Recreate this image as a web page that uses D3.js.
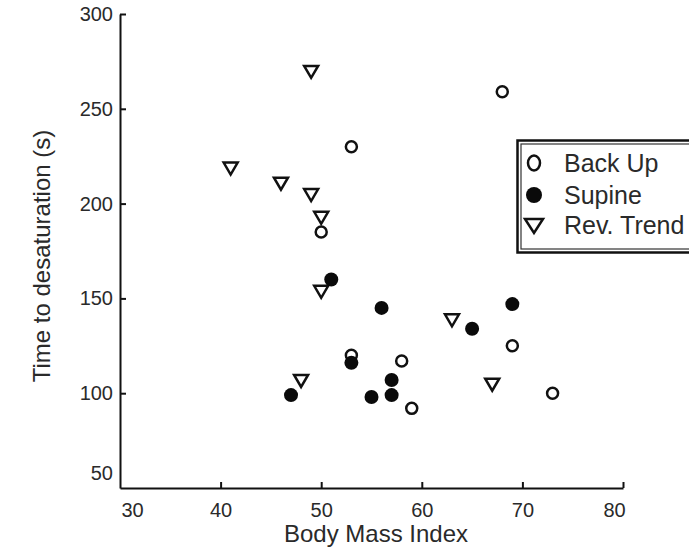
<!DOCTYPE html>
<html>
<head>
<meta charset="utf-8">
<script src="https://cdn.jsdelivr.net/npm/d3@7"></script>
<style>
    body { margin: 0; background: #fff; }
    .chart { width: 689px; height: 552px; }
    .chart text { font-family: "Liberation Sans", Arial, Helvetica, sans-serif; fill: #2a2a2a; }
    .axis path, .axis line { stroke: #111; stroke-width: 2; }
</style>
</head>
<body>
<div class="chart" id="chart"></div>
<script>
// Body mass index vs. time to desaturation, three positions
const backUpBmi = [68, 53, 50, 53, 58, 59, 69, 73];
const backUpTime = [259, 230, 185, 120, 117, 92, 125, 100];

const supineBmi = [47, 51, 53, 56, 55, 57, 57, 65, 69];
const supineTime = [99, 160, 116, 145, 98, 107, 99, 134, 147];

const revTrendBmi = [49, 41, 46, 49, 50, 50, 48, 63, 67];
const revTrendTime = [270, 219, 211, 205, 193, 154, 107, 139, 105];

const xTicks = [30, 40, 50, 60, 70, 80];
const yTicks = [50, 100, 150, 200, 250, 300];
const seriesNames = ['Back Up', 'Supine', 'Rev. Trend'];

const drawGraph = (elem) => {
    let width = 689;
    let height = 552;

    let xScale = d3.scaleLinear()
        .domain([30, 80])
        .range([120, 623]);

    let yScale = d3.scaleLinear()
        .domain([50, 300])
        .range([488, 14]);

    let svg = d3.select(elem)
        .append('svg')
        .attr('width', width)
        .attr('height', height);

    // axes, ticks pointing inward
    let xAxis = svg.append('g')
        .attr('class', 'axis')
        .attr('transform', 'translate(0,' + yScale(50) + ')')
        .call(d3.axisBottom(xScale).tickValues(xTicks).tickSize(-6).tickSizeOuter(0).tickPadding(15));

    let yAxis = svg.append('g')
        .attr('class', 'axis')
        .attr('transform', 'translate(' + xScale(30) + ',0)')
        .call(d3.axisLeft(yScale).tickValues(yTicks).tickSize(-6).tickSizeOuter(0).tickPadding(7));

    xAxis.selectAll('text').style('font-size', '20px');
    yAxis.selectAll('text').style('font-size', '20px');

    // corner labels sit a little inside the frame
    xAxis.selectAll('.tick').filter(d => d === 30).select('line').remove();
    xAxis.selectAll('.tick text').filter(d => d === 30).attr('dx', 12);
    xAxis.selectAll('.tick text').filter(d => d === 80).attr('dx', -9);
    yAxis.selectAll('.tick').filter(d => d === 50).select('line').remove();
    yAxis.selectAll('.tick text').filter(d => d === 50).attr('y', -15);

    svg.append('text')
        .attr('x', 376)
        .attr('y', 542)
        .attr('text-anchor', 'middle')
        .style('font-size', '24px')
        .text('Body Mass Index');

    svg.append('text')
        .attr('transform', 'translate(50,256) rotate(-90)')
        .attr('text-anchor', 'middle')
        .style('font-size', '24px')
        .text('Time to desaturation (s)');

    let tri = 'M-7,-5L7,-5L0,7Z';

    // Rev. Trend triangles
    svg.append('g')
        .selectAll('path')
        .data(revTrendBmi)
        .enter()
        .append('path')
        .attr('d', tri)
        .attr('transform', (d, i) => 'translate(' + xScale(d) + ',' + yScale(revTrendTime[i]) + ')')
        .attr('fill', '#fff')
        .attr('stroke', '#111')
        .attr('stroke-width', 2.5);

    // Back Up open circles
    svg.append('g')
        .selectAll('circle')
        .data(backUpBmi)
        .enter()
        .append('circle')
        .attr('cx', d => xScale(d))
        .attr('cy', (d, i) => yScale(backUpTime[i]))
        .attr('r', 5.5)
        .attr('fill', '#fff')
        .attr('stroke', '#111')
        .attr('stroke-width', 2.5);

    // Supine filled circles
    svg.append('g')
        .selectAll('circle')
        .data(supineBmi)
        .enter()
        .append('circle')
        .attr('cx', d => xScale(d))
        .attr('cy', (d, i) => yScale(supineTime[i]))
        .attr('r', 7)
        .attr('fill', '#0a0a0a');

    // legend with a double frame
    let legend = svg.append('g');

    legend.append('rect')
        .attr('x', 517.5)
        .attr('y', 140.5)
        .attr('width', 200)
        .attr('height', 112)
        .attr('fill', '#fff')
        .attr('stroke', '#111')
        .attr('stroke-width', 2.5);

    legend.append('rect')
        .attr('x', 521)
        .attr('y', 144)
        .attr('width', 200)
        .attr('height', 105)
        .attr('fill', 'none')
        .attr('stroke', '#333')
        .attr('stroke-width', 1.2);

    let rows = [163, 195, 225];

    legend.append('ellipse')
        .attr('cx', 534).attr('cy', rows[0])
        .attr('rx', 6).attr('ry', 7.5)
        .attr('fill', 'none').attr('stroke', '#111').attr('stroke-width', 2.5);

    legend.append('circle')
        .attr('cx', 534).attr('cy', rows[1])
        .attr('r', 8)
        .attr('fill', '#0a0a0a');

    legend.append('path')
        .attr('d', 'M-9,-6L9,-6L0,8Z')
        .attr('transform', 'translate(534,' + rows[2] + ')')
        .attr('fill', 'none').attr('stroke', '#111').attr('stroke-width', 2.5);

    legend.selectAll('text.label')
        .data(seriesNames)
        .enter()
        .append('text')
        .attr('class', 'label')
        .attr('x', 564)
        .attr('y', (d, i) => rows[i])
        .attr('dy', '0.36em')
        .style('font-size', '25px')
        .text(d => d);

    return svg;
}

drawGraph(document.getElementById('chart'));
</script>
</body>
</html>
